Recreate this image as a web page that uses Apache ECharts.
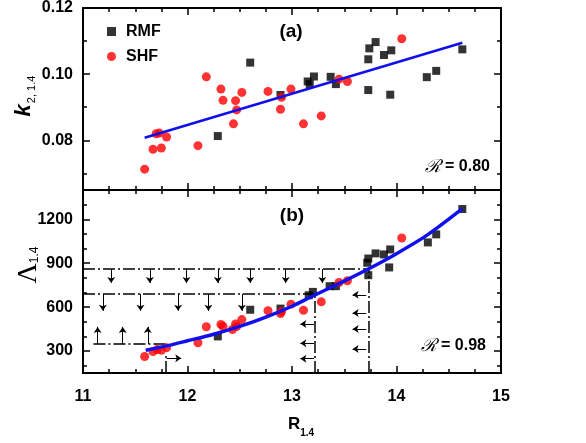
<!DOCTYPE html>
<html><head><meta charset="utf-8">
<script src="https://cdn.jsdelivr.net/npm/echarts@6/dist/echarts.min.js"></script>
<style>html,body{margin:0;padding:0;background:#fff}#c{width:586px;height:443px}</style>
</head><body><div id="c"></div>
<script>
// ---------- data ----------
const rmfK = [[12.29,0.0813],[12.60,0.1035],[12.89,0.0937],[13.15,0.0978],[13.17,0.0970],[13.21,0.0993],[13.37,0.0992],[13.42,0.0970],[13.73,0.1045],[13.74,0.1078],[13.80,0.1097],[13.73,0.0952],[13.88,0.1058],[13.95,0.1072],[13.94,0.0938],[14.29,0.0991],[14.38,0.1010],[14.63,0.1075]];
const shfK = [[11.59,0.0713],[11.67,0.0773],[11.70,0.0820],[11.73,0.0822],[11.75,0.0777],[11.80,0.0810],[12.10,0.0784],[12.18,0.0992],[12.32,0.0955],[12.34,0.0921],[12.44,0.0850],[12.46,0.0920],[12.47,0.0892],[12.52,0.0945],[12.77,0.0948],[12.89,0.0894],[12.90,0.0930],[12.99,0.0955],[13.11,0.0850],[13.28,0.0874],[13.45,0.0985],[13.53,0.0978],[14.05,0.1107]];
const rmfL = [[12.29,400],[12.60,582],[12.89,590],[13.16,681],[13.20,704],[13.36,743],[13.42,743],[13.73,818],[13.72,903],[13.73,932],[13.80,967],[13.88,960],[13.94,994],[13.93,871],[14.30,1042],[14.38,1097],[14.63,1270]];
const shfL = [[11.59,263],[11.67,297],[11.71,310],[11.75,305],[11.80,323],[12.10,357],[12.18,466],[12.32,482],[12.34,468],[12.43,447],[12.46,485],[12.47,468],[12.52,515],[12.77,575],[12.89,556],[12.90,570],[12.99,620],[13.11,579],[13.28,636],[13.45,768],[13.53,780],[14.05,1072]];
const fitKX = [11.59, 14.63];
const fitKY = [0.0808, 0.1095];
const fitLX = [11.6, 11.8, 12.0, 12.25, 12.5, 12.75, 13.0, 13.2, 13.5, 13.73, 14.0, 14.3, 14.63];
const fitLY = [305, 335, 370, 415, 468, 532, 606, 676, 778, 860, 965, 1095, 1272];
// dash-dot guide lines [x1, y1, x2, y2]
const guideLines = [[11,860,13.73,860],[11,690,13.22,690],[11.1,348,11.8,348],[13.22,150,13.22,690],[13.73,150,13.73,860],[11.79,150,11.79,280]];
// arrows
const downTopX = [11.27, 11.64, 11.99, 12.29, 12.60, 12.94, 13.29]; const downTopY = [860, 765];
const downMidX = [11.19, 11.55, 11.91, 12.20, 12.52]; const downMidY = [690, 575];
const upLowX = [11.14, 11.38, 11.62]; const upLowY = [348, 465];
const rightArrY = [250]; const rightArrX = [11.80, 11.94];
const leftAY = [484, 354, 248]; const leftAX = [13.21, 13.08];
const leftBY = [684, 559, 450, 314]; const leftBX = [13.71, 13.58];
const kMajor = [0.08, 0.10, 0.12]; const kMinor = [0.07, 0.09, 0.11];
const lMajor = [300, 600, 900, 1200]; const lMinor = [200, 400, 500, 700, 800, 1000, 1100, 1300];

// ---------- build ----------
const FONT = "'Liberation Sans', Arial, sans-serif";
const toXY = (xs, ys) => xs.map((x, i) => [x, ys[i]]);
const arrows = [];
downTopX.forEach(x => arrows.push({coords: [[x, downTopY[0]], [x, downTopY[1]]]}));
downMidX.forEach(x => arrows.push({coords: [[x, downMidY[0]], [x, downMidY[1]]]}));
upLowX.forEach(x => arrows.push({coords: [[x, upLowY[0]], [x, upLowY[1]]]}));
rightArrY.forEach(y => arrows.push({coords: [[rightArrX[0], y], [rightArrX[1], y]]}));
leftAY.forEach(y => arrows.push({coords: [[leftAX[0], y], [leftAX[1], y]]}));
leftBY.forEach(y => arrows.push({coords: [[leftBX[0], y], [leftBX[1], y]]}));
const guides = guideLines.map(g => ({coords: [[g[0], g[1]], [g[2], g[3]]]}));

const L = 83, W = 418, H = 183;
const grids = [
  {left: L, top: 7, width: W, height: H},
  {left: L, top: 7, width: W, height: H},
  {left: L, top: 190, width: W, height: H},
  {left: L, top: 190, width: W, height: H}
];
const axLine = {show: true, onZero: false, lineStyle: {color: '#000', width: 2}};
const tickSty = {color: '#000', width: 1.5};
function xAx(grid, pos, labels) {
  return {type: 'value', gridIndex: grid, position: pos, min: 11, max: 15, interval: 1,
    axisLine: axLine, axisTick: {inside: true, length: 7, lineStyle: tickSty},
    minorTick: {show: true, splitNumber: 4, length: 4, lineStyle: tickSty},
    axisLabel: {show: labels, margin: 16, fontSize: 16, fontWeight: 'bold', color: '#000', fontFamily: FONT},
    splitLine: {show: false}, minorSplitLine: {show: false}};
}
function xHidden(grid) {
  return {type: 'value', gridIndex: grid, min: 11, max: 15, show: false};
}
function yAx(grid, pos, mn, mx, ticks, labels, len, line, fmt) {
  return {type: 'value', gridIndex: grid, position: pos, min: mn, max: mx,
    axisLine: line ? axLine : {show: false, onZero: false},
    axisTick: {show: true, inside: true, length: len, customValues: ticks, lineStyle: tickSty},
    axisLabel: labels ? {show: true, customValues: ticks, margin: 10, fontSize: 16, fontWeight: 'bold', color: '#000', fontFamily: FONT, formatter: fmt} : {show: false},
    splitLine: {show: false}};
}
const fmtK = v => Number(v).toFixed(2);
const fmtL = v => String(Math.round(v));

const option = {
  animation: false,
  backgroundColor: '#fff',
  grid: grids,
  xAxis: [xAx(0, 'bottom', false), xAx(0, 'top', false), xAx(2, 'bottom', true), xAx(2, 'top', false), xHidden(1), xHidden(3)],
  yAxis: [
    yAx(0, 'left', 0.065, 0.12, kMajor, true, 7, true, fmtK),
    yAx(0, 'right', 0.065, 0.12, kMajor, false, 7, true),
    yAx(1, 'left', 0.065, 0.12, kMinor, false, 4, false),
    yAx(1, 'right', 0.065, 0.12, kMinor, false, 4, false),
    yAx(2, 'left', 150, 1400, lMajor, true, 7, true, fmtL),
    yAx(2, 'right', 150, 1400, lMajor, false, 7, true),
    yAx(3, 'left', 150, 1400, lMinor, false, 4, false),
    yAx(3, 'right', 150, 1400, lMinor, false, 4, false)
  ],
  legend: {
    orient: 'vertical', left: 102, top: 18, itemWidth: 9, itemHeight: 9, itemGap: 8,
    data: [{name: 'RMF', icon: 'rect'}, {name: 'SHF', icon: 'circle'}],
    textStyle: {fontSize: 16, fontWeight: 'bold', color: '#000', fontFamily: FONT, lineHeight: 17, padding: [0, 0, 0, 5]},
    selectedMode: false
  },
  series: [
    {type: 'lines', coordinateSystem: 'cartesian2d', xAxisIndex: 2, yAxisIndex: 4, data: guides, silent: true,
      symbol: 'none', lineStyle: {color: '#000', width: 1.5, type: [12, 3, 2, 3], opacity: 1}, z: 3},
    {type: 'lines', coordinateSystem: 'cartesian2d', xAxisIndex: 2, yAxisIndex: 4, data: arrows, silent: true,
      symbol: ['none', 'arrow'], symbolSize: 6, lineStyle: {color: '#000', width: 1, opacity: 1}, z: 3},
    {name: 'RMF', type: 'scatter', xAxisIndex: 0, yAxisIndex: 0, data: rmfK, symbol: 'rect', symbolSize: 8, itemStyle: {color: '#000'}, z: 4},
    {name: 'SHF', type: 'scatter', xAxisIndex: 0, yAxisIndex: 0, data: shfK, symbol: 'circle', symbolSize: 9, itemStyle: {color: '#ff0000'}, z: 4},
    {name: 'RMF', type: 'scatter', xAxisIndex: 2, yAxisIndex: 4, data: rmfL, symbol: 'rect', symbolSize: 8, itemStyle: {color: '#000'}, z: 4},
    {name: 'SHF', type: 'scatter', xAxisIndex: 2, yAxisIndex: 4, data: shfL, symbol: 'circle', symbolSize: 9, itemStyle: {color: '#ff0000'}, z: 4},
    {name: 'fitK', type: 'line', xAxisIndex: 0, yAxisIndex: 0, data: toXY(fitKX, fitKY), showSymbol: false, silent: true,
      lineStyle: {color: '#1010ee', width: 2.5}, z: 5},
    {name: 'fitL', type: 'line', xAxisIndex: 2, yAxisIndex: 4, data: toXY(fitLX, fitLY), showSymbol: false, silent: true, smooth: 0.3,
      lineStyle: {color: '#1010ee', width: 3.5}, z: 5}
  ],
  graphic: [
    {type: 'text', x: 291, y: 32, style: {text: '(a)', font: "bold 19px 'Liberation Sans', Arial", fill: '#000', align: 'center', verticalAlign: 'middle'}},
    {type: 'text', x: 292, y: 216, style: {text: '(b)', font: "bold 19px 'Liberation Sans', Arial", fill: '#000', align: 'center', verticalAlign: 'middle'}},
    {type: 'text', x: 490, y: 167, style: {text: '{r|ℛ}{v| = 0.80}', align: 'right', verticalAlign: 'middle',
      rich: {r: {fontSize: 18, fontFamily: "'DejaVu Serif', serif", fontStyle: 'italic', fill: '#000'}, v: {fontSize: 16, fontWeight: 'bold', fontFamily: FONT, fill: '#000'}}}},
    {type: 'text', x: 486, y: 346, style: {text: '{r|ℛ}{v| = 0.98}', align: 'right', verticalAlign: 'middle',
      rich: {r: {fontSize: 18, fontFamily: "'DejaVu Serif', serif", fontStyle: 'italic', fill: '#000'}, v: {fontSize: 16, fontWeight: 'bold', fontFamily: FONT, fill: '#000'}}}},
    {type: 'text', x: 301, y: 425, style: {text: '{m|R}{s|1.4}', align: 'center', verticalAlign: 'middle',
      rich: {m: {fontSize: 17, fontWeight: 'bold', fontFamily: FONT, fill: '#000', lineHeight: 18, verticalAlign: 'top'},
             s: {fontSize: 10, fontWeight: 'bold', fontFamily: FONT, fill: '#000', lineHeight: 10, padding: [12, 0, 0, 0], verticalAlign: 'top'}}}},
    {type: 'text', x: 24, y: 96, rotation: Math.PI / 2, style: {text: '{m|k}{s|2, 1.4}', align: 'center', verticalAlign: 'middle',
      rich: {m: {fontSize: 22, fontWeight: 'bold', fontStyle: 'italic', fontFamily: FONT, fill: '#000', lineHeight: 22, verticalAlign: 'top'},
             s: {fontSize: 11, fontFamily: FONT, fill: '#000', lineHeight: 11, padding: [13, 0, 0, 1], verticalAlign: 'top'}}}},
    {type: 'text', x: 28, y: 265, rotation: Math.PI / 2, style: {text: '{m|Λ}{s|1.4}', align: 'center', verticalAlign: 'middle',
      rich: {m: {fontSize: 28, fontFamily: "'Liberation Serif', 'Times New Roman', serif", fill: '#000', lineHeight: 26, verticalAlign: 'top'},
             s: {fontSize: 12, fontFamily: FONT, fill: '#000', lineHeight: 12, padding: [14, 0, 0, 0], verticalAlign: 'top'}}}}
  ]
};
const chart = echarts.init(document.getElementById('c'), null, {renderer: 'canvas'});
chart.setOption(option);
</script>
</body></html>
